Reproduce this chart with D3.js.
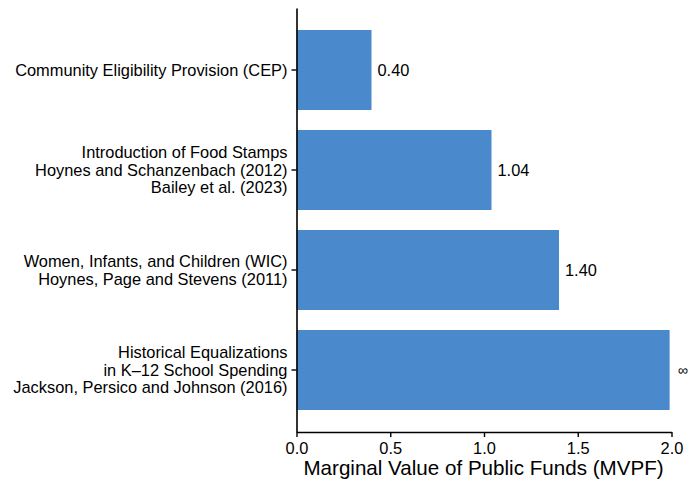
<!DOCTYPE html>
<html>
<head>
<meta charset="utf-8">
<script src="https://cdn.jsdelivr.net/npm/d3@7"></script>
<style>
  body { margin: 0; background: #fff; }
  text { font-family: "Liberation Sans", Arial, Helvetica, sans-serif; fill: #000; }
</style>
</head>
<body>
<svg id="chart" width="690" height="482"></svg>
<script>
const categories = [
  ["Community Eligibility Provision (CEP)"],
  ["Introduction of Food Stamps", "Hoynes and Schanzenbach (2012)", "Bailey et al. (2023)"],
  ["Women, Infants, and Children (WIC)", "Hoynes, Page and Stevens (2011)"],
  ["Historical Equalizations", "in K\u201312 School Spending", "Jackson, Persico and Johnson (2016)"]
];
const values = [0.40, 1.04, 1.40, 1.99];
const valueLabels = ["0.40", "1.04", "1.40", "\u221E"];
const xTicks = [0, 0.5, 1.0, 1.5, 2.0];
const xTitle = "Marginal Value of Public Funds (MVPF)";

(function () {
const svg = d3.select("#chart");
const mLeft = 296.5, mRight = 671.5, mTop = 8, mBottom = 432;
const fs = 16.4;
const ids = categories.map((d, i) => i);

const x = d3.scaleLinear().domain([0, 2]).range([mLeft, mRight]);
const y = d3.scaleBand().domain(ids).range([mTop, mBottom]).paddingInner(0.2).paddingOuter(0.22);

svg.selectAll("rect.bar").data(values).enter().append("rect")
  .attr("class", "bar")
  .attr("x", x(0))
  .attr("y", (d, i) => y(i))
  .attr("width", d => x(d) - x(0))
  .attr("height", y.bandwidth())
  .attr("fill", "#4b89cd");

svg.selectAll("text.val").data(values).enter().append("text")
  .attr("class", "val")
  .attr("x", (d, i) => x(d) + (valueLabels[i] === "\u221E" ? 8 : 6))
  .attr("y", (d, i) => y(i) + y.bandwidth() / 2)
  .attr("dy", "0.35em")
  .attr("font-size", (d, i) => valueLabels[i] === "\u221E" ? 14 : fs)
  .text((d, i) => valueLabels[i]);

const xAxis = svg.append("g").attr("transform", `translate(0,${mBottom})`)
  .call(d3.axisBottom(x).tickValues(xTicks).tickFormat(d3.format(".1f")).tickSize(5).tickSizeOuter(0));
xAxis.select(".domain").attr("stroke", "#000").attr("stroke-width", 1.6);
xAxis.selectAll(".tick line").attr("stroke", "#000").attr("stroke-width", 1.4);
xAxis.selectAll(".tick text").attr("font-size", fs).attr("dy", "0.72em").attr("y", 10)
  .attr("font-family", "Liberation Sans, Arial, sans-serif").attr("fill", "#000");

const yAxis = svg.append("g").attr("transform", `translate(${mLeft},0)`)
  .call(d3.axisLeft(y).tickSize(5).tickSizeOuter(0).tickFormat(""));
yAxis.select(".domain").attr("stroke", "#000").attr("stroke-width", 1.6);
yAxis.selectAll(".tick line").attr("stroke", "#000").attr("stroke-width", 1.4);

const lh = 17.6;
categories.forEach((lines, i) => {
  const cy = y(i) + y.bandwidth() / 2;
  const t = svg.append("text")
    .attr("text-anchor", "end")
    .attr("font-size", fs)
    .attr("x", mLeft - 9)
    .attr("y", cy - (lines.length - 1) * lh / 2);
  lines.forEach((l, j) => {
    t.append("tspan").attr("x", mLeft - 9).attr("dy", j === 0 ? "0.35em" : lh).text(l);
  });
});

svg.append("text")
  .attr("x", (mLeft + mRight) / 2 - 0.5)
  .attr("y", 475)
  .attr("text-anchor", "middle")
  .attr("font-size", 20.6)
  .text(xTitle);
})();
</script>
</body>
</html>
